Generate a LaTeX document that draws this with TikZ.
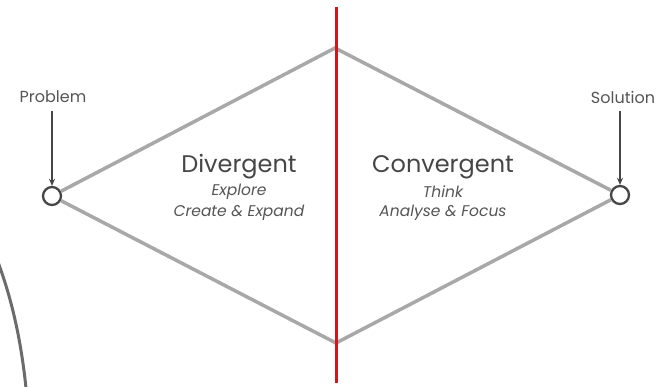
\documentclass[tikz,border=0pt]{standalone}
\usepackage{fontspec}
\setmainfont{Poppins}
\usetikzlibrary{arrows.meta}
\definecolor{linegray}{RGB}{168,168,168}
\definecolor{darkgray}{RGB}{70,70,70}
\definecolor{txtgray}{RGB}{85,85,85}
\definecolor{redline}{RGB}{215,20,30}
\tikzset{
  edge/.style={draw=linegray, line width=3.5pt},
  endpt/.style={circle, draw=darkgray, line width=2.3pt, fill=white, minimum size=18pt, inner sep=0pt},
  lbl/.style={text=txtgray, font=\fontsize{16}{18}\selectfont, inner sep=0pt},
  pointer/.style={draw=darkgray, line width=1.5pt, -{Stealth[length=7pt,width=6pt]}},
  title/.style={text=darkgray, font=\fontsize{24}{28}\selectfont, inner sep=0pt},
  sub/.style={text=txtgray, font=\itshape\fontsize{15.5}{18}\selectfont, inner sep=0pt},
}
\begin{document}
\begin{tikzpicture}[x=1pt,y=-1pt]
\useasboundingbox[fill=white] (0,0) rectangle (659,386);
\coordinate (top) at (335,48);
\coordinate (bot) at (336,343);
\node[endpt] (prob) at (52,196) {};
\node[endpt] (sol) at (620,195) {};
\draw[edge] (prob) -- (top) -- (sol);
\draw[edge] (prob) -- (bot) -- (sol);
\coordinate (rtop) at (336,7);
\coordinate (rbot) at (336,383);
\draw[draw=redline, line width=3pt] (rtop) -- (rbot);
\node[lbl] (problbl) at (53,97) {Problem};
\node[lbl] (sollbl) at (623,97) {Solution};
\coordinate (pa) at (52,111);
\coordinate (sa) at (620,111);
\draw[pointer] (pa) -- (prob.north);
\draw[pointer] (sa) -- (sol.north);
\node[title] (div) at (239,167) {Divergent};
\node[sub] (explore) at (239,192) {Explore};
\node[sub] (create) at (239,213) {Create \& Expand};
\node[title] (conv) at (443,167) {Convergent};
\node[sub] (think) at (443,192) {Think};
\node[sub] (analyse) at (443,213) {Analyse \& Focus};
\coordinate (a0) at (-2,262);
\coordinate (a1) at (26,388);
\draw[draw=darkgray!80, line width=3pt] (a0) .. controls (12,300) and (21,340) .. (a1);
\end{tikzpicture}
\end{document}
